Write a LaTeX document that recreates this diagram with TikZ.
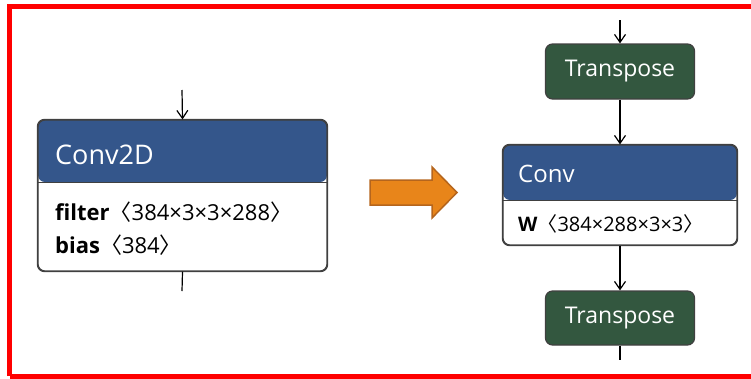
\documentclass[tikz,border=0pt]{standalone}
\usepackage{fontspec}
\setmainfont{Open Sans}
\newfontfamily\cjk{Noto Sans CJK SC}
\usetikzlibrary{arrows.meta}
\definecolor{headblue}{HTML}{34568B}
\definecolor{opgreen}{HTML}{33573F}
\definecolor{boxline}{HTML}{404040}
\definecolor{arrfill}{HTML}{E8851A}
\definecolor{arrline}{HTML}{B5651D}
\definecolor{framered}{HTML}{FF0000}
\newcommand{\lab}{{\cjk 〈}}
\newcommand{\rab}{{\cjk 〉}}
\tikzset{
  opbox/.style={draw=boxline, line width=1.2pt, rounded corners=7pt, fill=white, inner sep=0pt},
  greenbox/.style={opbox, fill=opgreen, text=white, font=\fontsize{23}{26}\selectfont},
  conn/.style={line width=1.2pt, -{Straight Barb[length=8pt,width=11pt,line width=1.2pt]}},
  plainconn/.style={line width=1.2pt},
  headtext/.style={anchor=west, text=white, inner sep=0pt},
  attrtext/.style={anchor=west, inner sep=0pt},
}
\begin{document}
\begin{tikzpicture}[x=1pt,y=-1pt]
\useasboundingbox (0,0) rectangle (751,378);
\clip (0,0) rectangle (751,378);
% frame
\draw[framered, line width=5pt] (9.5,376) -- (9.5,6) -- (780,6);
\draw[framered, line width=5pt] (9.5,376) -- (780,376);

% Conv2D box
\node[opbox, minimum width=289pt, minimum height=151pt,
  path picture={\fill[headblue] (path picture bounding box.north west) rectangle ([yshift=-62pt]path picture bounding box.north east);
  \draw[boxline, line width=1pt] ([yshift=-62pt]path picture bounding box.north west) -- ([yshift=-62pt]path picture bounding box.north east);}]
  (c2d) at (182.5,195.5) {};
\draw[boxline, line width=1.2pt, rounded corners=7pt] (c2d.north west) rectangle (c2d.south east);
\node[headtext, font=\fontsize{27}{30}\selectfont] (c2dt) at (55,155) {Conv2D};
\node[attrtext, font=\fontsize{22}{25}\selectfont] (c2da) at (55,212) {\textbf{filter}\lab384×3×3×288\rab};
\node[attrtext, font=\fontsize{22}{25}\selectfont] (c2db) at (55,245) {\textbf{bias}\lab384\rab};
\coordinate (c2din) at (182,90);
\coordinate (c2dout) at (182,291);
\draw[conn] (c2din) -- (c2d.north);
\draw[plainconn] (c2d.south) -- (c2dout);

% orange arrow
\fill[arrfill, draw=arrline, line width=1.5pt, line join=miter]
  (370,180) -- (432,180) -- (432,167) -- (457,192.5) -- (432,218) -- (432,205) -- (370,205) -- cycle;

% right side
\node[greenbox, minimum width=149pt, minimum height=55pt] (t1) at (620,71.5) {Transpose};
\node[opbox, minimum width=234pt, minimum height=100pt,
  path picture={\fill[headblue] (path picture bounding box.north west) rectangle ([yshift=-55pt]path picture bounding box.north east);
  \draw[boxline, line width=1pt] ([yshift=-55pt]path picture bounding box.north west) -- ([yshift=-55pt]path picture bounding box.north east);}]
  (conv) at (620,195) {};
\draw[boxline, line width=1.2pt, rounded corners=7pt] (conv.north west) rectangle (conv.south east);
\node[headtext, font=\fontsize{24}{27}\selectfont] (convt) at (518,174) {Conv};
\node[attrtext, font=\fontsize{20}{23}\selectfont] (conva) at (518,224) {\textbf{W}\lab384×288×3×3\rab};
\node[greenbox, minimum width=149pt, minimum height=54pt] (t2) at (620,318) {Transpose};
\coordinate (t1in) at (620,20);
\coordinate (t2out) at (620,360);
\draw[conn] (t1in) -- (t1.north);
\draw[conn] (t1.south) -- (conv.north);
\draw[conn] (conv.south) -- (t2.north);
\draw[plainconn] (t2.south) -- (t2out);
\end{tikzpicture}
\end{document}
